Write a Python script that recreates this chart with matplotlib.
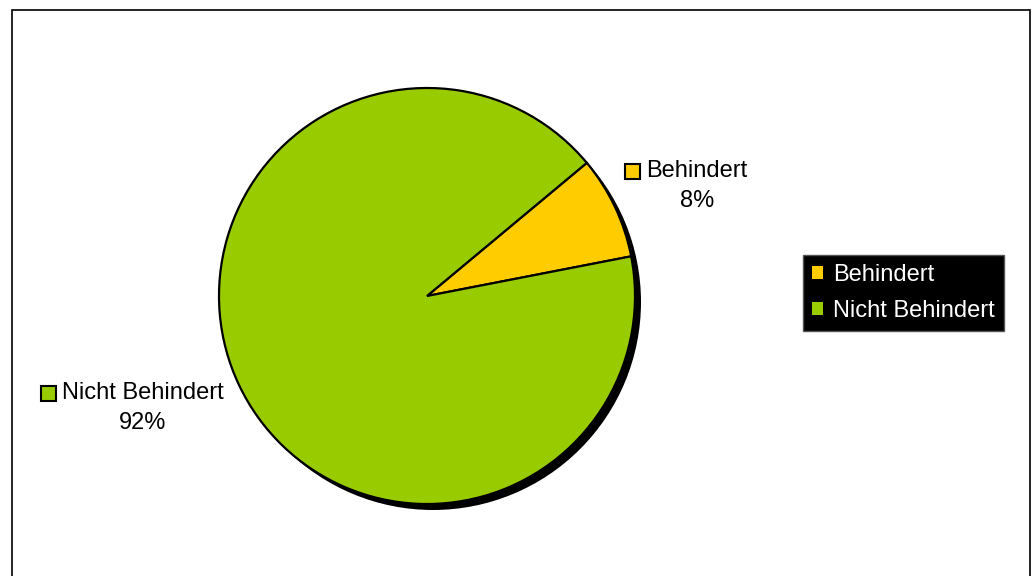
import matplotlib.pyplot as plt
from matplotlib.patches import Circle, Rectangle

plt.rcParams['font.family'] = ['Liberation Sans', 'DejaVu Sans']

# Data
labels = ['Behindert', 'Nicht Behindert']
shares = [8, 92]
colors = ['#FFCC00', '#99CC00']

# Label anchors (pixels, y up) for the outside data labels
label_pos = [(697, 405), (143, 183)]

W, H = 1034, 576
fig = plt.figure(figsize=(W / 100, H / 100), dpi=100)
ax = fig.add_axes([0, 0, 1, 1])
ax.set_xlim(0, W)
ax.set_ylim(0, H)
ax.axis('off')

# Chart border (bottom edge runs past the image)
ax.add_patch(Rectangle((12, -20), 1018, H - 10 + 20, fill=False, edgecolor='black', linewidth=1.2))

cx, cy, r = 427, 280, 208

# Drop shadow under the pie
ax.add_patch(Circle((cx + 6, cy - 6), r, facecolor='black', edgecolor='none', zorder=1))

wedges, _ = ax.pie(shares, colors=colors, startangle=11, counterclock=True,
                   center=(cx, cy), radius=r, frame=True,
                   wedgeprops=dict(edgecolor='black', linewidth=1.6))
for w in wedges:
    w.set_zorder(2)
ax.set_xlim(0, W)
ax.set_ylim(0, H)
ax.set_aspect('equal')
ax.axis('off')

fs = 17
total = sum(shares)
for lab, val, col, (x, y) in zip(labels, shares, colors, label_pos):
    t = ax.text(x, y, lab, ha='center', va='center', fontsize=fs, zorder=5)
    ax.text(x, y - 30, f'{round(100 * val / total)}%', ha='center', va='center', fontsize=fs, zorder=5)
    fig.canvas.draw()
    bb = t.get_window_extent().transformed(ax.transData.inverted())
    ax.add_patch(Rectangle((bb.x0 - 21, y - 8), 15, 15, facecolor=col,
                           edgecolor='black', linewidth=1.5, zorder=5))

leg = ax.legend(wedges, labels, loc='upper left',
                bbox_to_anchor=(803 / W, 1 - 255 / H), bbox_transform=fig.transFigure,
                borderaxespad=0, fontsize=fs, frameon=True, fancybox=False,
                facecolor='black', edgecolor='#555555', framealpha=1,
                labelcolor='white', handlelength=0.45, handleheight=0.45,
                handletextpad=0.45, labelspacing=0.6, borderpad=0.38)
for h in leg.legend_handles:
    h.set_edgecolor('none')
    h.set_linewidth(0)

fig.savefig('out.png', dpi=100)
